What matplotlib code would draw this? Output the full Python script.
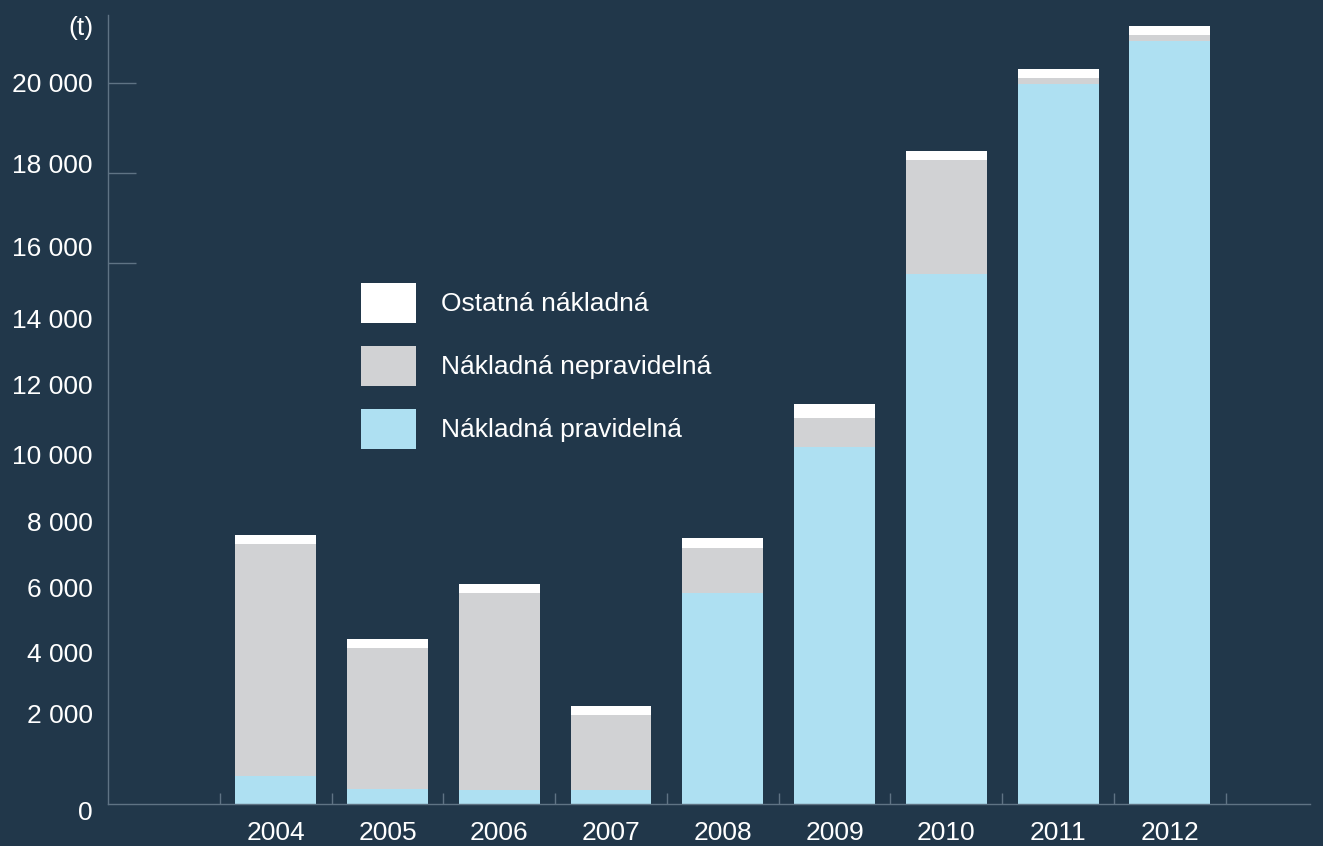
import matplotlib
matplotlib.use("Agg")

import matplotlib.pyplot as plt
import numpy as np

YEARS = ["2004", "2005", "2006", "2007", "2008", "2009", "2010", "2011", "2012"]

# tonnes
PRAVIDELNA = [785, 408, 397, 397, 5853, 9903, 14702, 19972, 21165]
NEPRAVIDELNA = [6427, 3920, 5456, 2072, 1248, 804, 3162, 166, 166]
OSTATNA = [250, 250, 250, 250, 277, 388, 250, 250, 250]

YTICK_LABELS = ["0", "2 000", "4 000", "6 000", "8 000", "10 000",
                "12 000", "14 000", "16 000", "18 000", "20 000"]

# the source places its labels unevenly, these are where they sit on the value scale
YTICK_POS = [-194, 2497, 4189, 5992, 7850, 9681, 11650, 13481, 15478, 17753, 20000]
YMARKS = [15000, 17500, 20000]

STYLE = {
    "background": "#21374a",
    "axis": "#5f7384",
    "blue": "#aee0f2",
    "grey": "#d1d2d4",
    "white": "#ffffff",
    "text": "#ffffff",
}

plt.rcParams["font.family"] = ["Liberation Sans", "DejaVu Sans"]

fig = plt.figure(figsize=(13.23, 8.46), dpi=100)
fig.patch.set_facecolor(STYLE["background"])
ax = fig.add_axes([108 / 1323, 0.0, (1310 - 108) / 1323, (846 - 15) / 846])
ax.set_facecolor(STYLE["background"])

x = np.arange(len(YEARS))
w = 0.724
prav = np.array(PRAVIDELNA)
nep = np.array(NEPRAVIDELNA)
ost = np.array(OSTATNA)

b1 = ax.bar(x, prav, width=w, color=STYLE["blue"], linewidth=0)
b2 = ax.bar(x, nep, width=w, bottom=prav, color=STYLE["grey"], linewidth=0)
b3 = ax.bar(x, ost, width=w, bottom=prav + nep, color=STYLE["white"], linewidth=0)

ymax = 21886
ybottom = -(846 - 804) * 20000 / 721
ax.set_ylim(ybottom, ymax)
ax.set_xlim(-1.5, 9.253)

for side in ["top", "right"]:
    ax.spines[side].set_visible(False)
ax.spines["bottom"].set_position(("data", 0))
ax.spines["left"].set_bounds(0, ymax)
for side in ["bottom", "left"]:
    ax.spines[side].set_color(STYLE["axis"])
    ax.spines[side].set_linewidth(1.0)

ax.set_xticks(x)
ax.set_xticklabels(YEARS)
ax.set_xticks(np.arange(len(YEARS) + 1) - 0.5, minor=True)
ax.set_yticks(YTICK_POS)
ax.set_yticklabels(YTICK_LABELS)
ax.set_yticks(YMARKS, minor=True)
ax.yaxis.remove_overlapping_locs = False

ax.tick_params(axis="x", which="major", length=0, pad=12, labelsize=19, labelcolor=STYLE["text"])
ax.tick_params(axis="x", which="minor", direction="in", length=8, width=1, color=STYLE["axis"])
ax.tick_params(axis="y", which="major", length=0, pad=11, labelsize=19, labelcolor=STYLE["text"])
ax.tick_params(axis="y", which="minor", direction="in", length=20, width=1, color=STYLE["axis"])

fig.text(93 / 1323, 1 - 28 / 846, "(t)", ha="right", va="center", fontsize=19, color=STYLE["text"])

leg = ax.legend(
    [b3, b2, b1],
    ["Ostatná nákladná", "Nákladná nepravidelná", "Nákladná pravidelná"],
    loc="upper left",
    bbox_to_anchor=(361 / 1323, 1 - 283 / 846),
    bbox_transform=fig.transFigure,
    frameon=False,
    fontsize=19,
    handlelength=2.1,
    handleheight=1.93,
    handletextpad=0.95,
    labelspacing=0.89,
    borderpad=0,
    borderaxespad=0,
)
for t in leg.get_texts():
    t.set_color(STYLE["text"])

fig.savefig("out.png", dpi=100, facecolor=fig.get_facecolor())
